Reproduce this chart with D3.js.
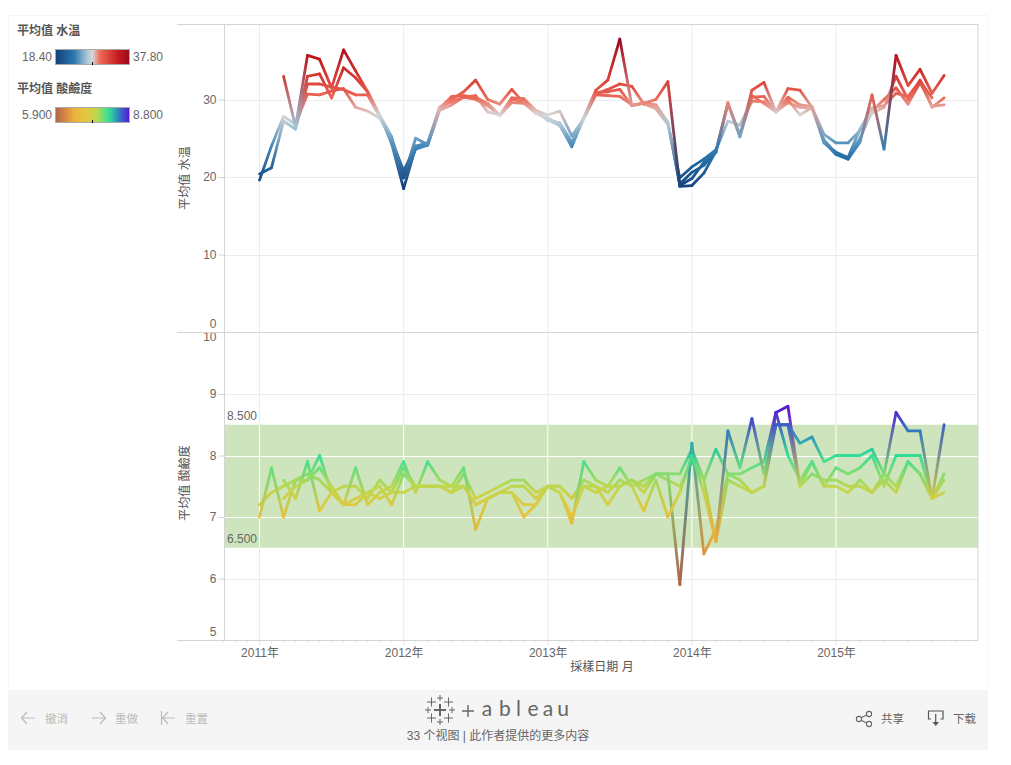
<!DOCTYPE html>
<html>
<head>
<meta charset="utf-8">
<script src="https://cdn.jsdelivr.net/npm/d3@7"></script>
<style>
html,body{margin:0;padding:0;background:#fff;}
svg{display:block;}
text{font-family:"Liberation Sans","Noto Sans CJK SC",sans-serif;}
</style>
</head>
<body>
<div id="chart"></div>
<script>

/* ==========================
   Data
========================== */

const startYear = 2011;
const yearTicks = [2011,2012,2013,2014,2015];
const tempTicks = [0,10,20,30];
const phTicks = [5,6,7,8,9,10];
const phBandLimits = [6.5,8.5];

// monthly, Jan 2011 to Oct 2015
const tempA = [null,null,33,26.5,35.7,35.2,31.5,36.4,33.7,31,28,24.3,
18.5,23.8,24.1,28.7,30,31,32.5,30,29.4,31.3,29.6,28.2,
27.6,26.8,23.9,27.7,31.2,32.5,37.8,29.2,29.5,30,32.3,18.8,
18.9,20.5,23.3,29.6,25.2,31.2,32.2,28.4,31.4,31.2,29,24.5,
22.9,22.3,24.5,30.6,23.6,35.7,31.8,33.9,30.8,33.1];
const tempB = [null,null,null,26.5,33,33.3,30.2,34.1,32.8,31,28,25.2,
19.9,25,24.2,28.9,30.4,30.5,30.3,29.5,28,30.2,30.1,28.6,
28,28.5,25.3,27.5,30.7,31.3,32,31.7,29.4,29,27,19.1,
20.6,21.5,23.2,29.4,25.5,30.3,30.4,28.4,30,28,29,25.5,
24.4,24.4,26,28.2,29,33,30,32.5,29,30.2];
const tempC = [20.4,21.2,27.2,26.2,32,32,31.6,31.3,30.6,30.6,27.8,24.8,
20.8,24,24.4,29,29.7,30.3,30.5,28.4,28,30,29.7,28.5,
27.4,26.6,24,27.6,30.6,30.5,30.4,29.3,29.5,28.8,26.8,19.9,
21.3,22.3,23.5,27.2,26.7,29.8,29.7,28.4,29.6,29,28.9,24.8,
23,22.4,25,28.5,30,31.5,29.4,32.2,29.1,29.3];
const tempD = [19.6,24,27.8,26.8,30.7,30.6,31.1,31.4,29,28.5,27.6,25,
19.9,23.6,24.1,28.6,29.3,30.3,30,29.2,27.9,29.6,29.5,28.5,
27.3,27,24.5,27.7,30.9,31,31.3,29.2,29.6,29.3,27.1,18.9,
19.8,21.9,23.2,29.5,25.2,30.5,29.5,28.4,30.3,29.3,29.1,24.4,
23.2,22.5,26.2,28.9,29.2,30.8,30.4,32.4,30.2,null];

const phA = [7,7.8,7,7.6,7.6,8,7.4,7.2,7.8,7.2,7.4,7.5,
7.9,7.4,7.9,7.6,7.5,7.8,6.8,7.3,7.4,7.4,7,7.2,
7.5,7.4,6.9,7.9,7.6,7.5,7.8,7.5,7.6,7.7,7.7,5.9,
8.2,6.4,6.8,7.7,7.6,7.4,7.5,8.7,8.8,7.5,7.9,7.5,
7.5,7.4,7.6,7.4,7.6,7.4,7.9,7.7,7.3,7.4];
const phB = [null,null,7.6,7.3,7.9,7.1,7.4,7.5,7.5,7.3,7.6,7.4,
7.8,7.5,7.5,7.5,7.4,7.7,7.3,7.4,7.5,7.6,7.6,7.4,
7.5,7.5,7.3,7.6,7.5,7.2,7.5,7.6,7.5,7.7,7.6,7.5,
7.9,7.6,8.1,7.7,7.7,7.8,7.9,8.7,8,7.6,7.9,7.5,
7.8,7.7,7.8,8,7.5,8,8,8,7.3,7.7];
const phC = [null,null,7.3,7.5,7.6,7.8,7.5,7.2,7.2,7.4,7.5,7.2,
7.7,7.5,7.5,7.5,7.4,7.5,7.2,7.3,7.4,7.4,7.2,7.2,
7.5,7.4,7,7.5,7.5,7.4,7.6,7.5,7.1,7.6,7,7.4,
8,7.4,6.6,8.4,7.8,8.6,7.7,8.5,8.5,8.2,8.3,7.9,
8,8,8,8.1,7.7,8.7,8.4,8.4,7.3,8.5];
const phD = [7.2,7.4,7.5,7.6,7.7,7.6,7.4,7.2,7.3,7.4,7.3,7.4,
7.4,7.5,7.5,7.5,7.5,7.5,7.2,7.3,7.4,7.5,7.5,7.3,
7.5,7.5,7.3,7.5,7.4,7.5,7.5,7.6,7.4,7.7,7.7,7.7,
8.1,7.6,6.6,7.6,7.5,7.4,7.5,8.5,8.5,7.5,7.7,7.6,
7.6,7.5,7.5,7.4,7.7,7.5,7.9,7.7,7.3,7.6];

const tempSeries = [tempD,tempC,tempB,tempA];
const phSeries = [phD,phB,phA,phC];

const tempRange = [18.4,37.8];
const phRange = [5.9,8.8];

/* ==========================
   Scales
========================== */

const width = 1011;
const height = 765;
const plotLeft = 224.5;
const plotRight = 978;

const svg = d3.select("#chart")
.append("svg")
.attr("width", width)
.attr("height", height);

const defs = svg.append("defs");

const x = d3.scaleLinear()
.domain([0,48])
.range([259.5,836]);

const monthIndex = (year,month) => (year-startYear)*12 + month;

const yTemp = d3.scaleLinear()
.domain([0,30])
.range([332,99.5]);

const yPh = d3.scaleLinear()
.domain([5,10])
.range([640,332.5]);

const tempColor = d3.scaleLinear()
.domain([0,0.25,0.42,0.5,0.6,0.85,1].map(t => tempRange[0] + t*(tempRange[1]-tempRange[0])))
.range(["#13407a","#2a78b0","#a5c4d6","#d8d8d8","#ee6a57","#c41a1c","#9c0a20"]);

const phColor = d3.scaleLinear()
.domain([0,0.14,0.25,0.41,0.55,0.66,0.73,0.86,1].map(t => phRange[0] + t*(phRange[1]-phRange[0])))
.range(["#b0654a","#d88a40","#eab13c","#e6c53e","#c0d74e","#62df80","#2fdf9a","#2f7cc0","#5a10d8"]);

/* ==========================
   Page frame
========================== */

svg.append("rect")
.attr("x",8.5).attr("y",15.5)
.attr("width",979).attr("height",675)
.attr("fill","#fff")
.attr("stroke","#f6f6f6");

svg.append("rect")
.attr("x",8).attr("y",690)
.attr("width",980).attr("height",60)
.attr("fill","#f5f5f5");

/* ==========================
   Grid and band
========================== */

const gridColor = "#ececec";
const grid = svg.append("g");

tempTicks.filter(d => d > 0).forEach(d => {
grid.append("line")
.attr("x1",plotLeft).attr("x2",plotRight)
.attr("y1",Math.round(yTemp(d))+0.5).attr("y2",Math.round(yTemp(d))+0.5)
.attr("stroke",gridColor);
});

[6,7,8,9].forEach(d => {
grid.append("line")
.attr("x1",plotLeft).attr("x2",plotRight)
.attr("y1",Math.round(yPh(d))+0.5).attr("y2",Math.round(yPh(d))+0.5)
.attr("stroke",gridColor);
});

yearTicks.forEach(y => {
grid.append("line")
.attr("x1",x(monthIndex(y,0))).attr("x2",x(monthIndex(y,0)))
.attr("y1",24).attr("y2",640)
.attr("stroke",gridColor);
});

svg.append("rect")
.attr("x",plotLeft)
.attr("y",yPh(phBandLimits[1]))
.attr("width",plotRight-plotLeft)
.attr("height",yPh(phBandLimits[0])-yPh(phBandLimits[1]))
.attr("fill","#cde4bd");

[7,8].forEach(d => {
svg.append("line")
.attr("x1",plotLeft).attr("x2",plotRight)
.attr("y1",Math.round(yPh(d))+0.5).attr("y2",Math.round(yPh(d))+0.5)
.attr("stroke","#fff");
});

yearTicks.forEach(y => {
svg.append("line")
.attr("x1",x(monthIndex(y,0))).attr("x2",x(monthIndex(y,0)))
.attr("y1",yPh(phBandLimits[1])).attr("y2",yPh(phBandLimits[0]))
.attr("stroke","#fff");
});

phBandLimits.forEach(d => {
svg.append("text")
.attr("x",227)
.attr("y",yPh(d)-5)
.attr("font-size",12)
.attr("fill","#666")
.text(d3.format(".3f")(d));
});

/* ==========================
   Axes
========================== */

function styleAxis(g){
g.select(".domain").remove();
g.selectAll("line").attr("stroke","#d4d4d4");
g.selectAll("text")
.attr("font-size",12)
.attr("fill","#666");
}

const axisTemp = svg.append("g")
.attr("transform",`translate(${plotLeft},0)`)
.call(d3.axisLeft(yTemp).tickValues(tempTicks).tickSize(6).tickPadding(2).tickFormat(d3.format("d")))
.call(styleAxis);

axisTemp.selectAll(".tick")
.filter(d => d === 0)
.select("text")
.attr("dy","-0.35em");

const axisPh = svg.append("g")
.attr("transform",`translate(${plotLeft},0)`)
.call(d3.axisLeft(yPh).tickValues(phTicks).tickSize(6).tickPadding(2).tickFormat(d3.format("d")))
.call(styleAxis);

axisPh.selectAll(".tick")
.filter(d => d === 10)
.select("text")
.attr("dy","0.68em");

axisPh.selectAll(".tick")
.filter(d => d === 5)
.select("text")
.attr("dy","-0.4em");

axisPh.selectAll(".tick")
.filter(d => d === 5 || d === 10)
.select("line")
.remove();

const axisX = svg.append("g")
.attr("transform","translate(0,640)")
.call(d3.axisBottom(x)
.tickValues(yearTicks.map(y => monthIndex(y,0)))
.tickSize(0)
.tickPadding(8)
.tickFormat(d => (startYear + d/12) + "年"))
.call(styleAxis);

// faint month ticks
svg.append("g")
.selectAll("line")
.data(d3.range(-3,60))
.enter()
.append("line")
.attr("x1",d => x(d))
.attr("x2",d => x(d))
.attr("y1",640)
.attr("y2",d => d % 12 === 0 ? 645 : 643)
.attr("stroke","#e8e8e8");

// panel borders
[
[177,plotRight,24.5,24.5],
[177,plotRight,332.5,332.5],
[177,plotRight,640.5,640.5],
[plotLeft,plotLeft,24,640],
[plotRight,plotRight,24,640]
].forEach(b => {
svg.append("line")
.attr("x1",b[0]).attr("x2",b[1])
.attr("y1",b[2]).attr("y2",b[3])
.attr("stroke","#d4d4d4");
});

function axisTitle(label,cx,cy,rotate){
svg.append("text")
.attr("transform",`translate(${cx},${cy})` + (rotate ? " rotate(-90)" : ""))
.attr("text-anchor","middle")
.attr("font-size",12)
.attr("fill","#555")
.text(label);
}

axisTitle("平均值 水温",189,178,true);
axisTitle("平均值 酸鹼度",189,483,true);
axisTitle("採樣日期 月",602,671,false);

/* ==========================
   Lines, one gradient per segment
========================== */

let gradId = 0;

function drawSeries(seriesList,y,color){

const line = d3.line()
.x(d => x(d.i))
.y(d => y(d.v));

const group = svg.append("g")
.attr("fill","none")
.attr("stroke-width",2.8)
.attr("stroke-linecap","round")
.attr("stroke-linejoin","round");

seriesList.forEach(values => {

for(let i=0;i<values.length-1;i++){

if(values[i] === null || values[i+1] === null) continue;

const id = "seg" + (gradId++);

const grad = defs.append("linearGradient")
.attr("id",id)
.attr("gradientUnits","userSpaceOnUse")
.attr("x1",x(i)).attr("y1",y(values[i]))
.attr("x2",x(i+1)).attr("y2",y(values[i+1]));

// straight blend between the two end colours, as in the reference
grad.append("stop")
.attr("offset",0)
.attr("stop-color",color(values[i]));

grad.append("stop")
.attr("offset",1)
.attr("stop-color",color(values[i+1]));

group.append("path")
.attr("d",line([{i:i,v:values[i]},{i:i+1,v:values[i+1]}]))
.attr("stroke",`url(#${id})`);

}

});

}

drawSeries(tempSeries,yTemp,tempColor);
drawSeries(phSeries,yPh,phColor);

/* ==========================
   Legends
========================== */

function drawLegend(title,top,color,range,fmt){

const id = "legend" + top;
const grad = defs.append("linearGradient").attr("id",id);

d3.range(0,1.001,0.05).forEach(t => {
grad.append("stop")
.attr("offset",t)
.attr("stop-color",color(range[0] + t*(range[1]-range[0])));
});

svg.append("text")
.attr("x",17).attr("y",top)
.attr("font-size",12)
.attr("font-weight","bold")
.attr("fill","#555")
.text(title);

svg.append("rect")
.attr("x",55.5).attr("y",top+14.5)
.attr("width",74).attr("height",15)
.attr("fill",`url(#${id})`)
.attr("stroke","#aaa");

svg.append("line")
.attr("x1",92.5).attr("x2",92.5)
.attr("y1",top+27).attr("y2",top+30)
.attr("stroke","#000");

svg.append("text")
.attr("x",52).attr("y",top+25.5)
.attr("text-anchor","end")
.attr("font-size",12)
.attr("fill","#666")
.text(fmt(range[0]));

svg.append("text")
.attr("x",133).attr("y",top+25.5)
.attr("font-size",12)
.attr("fill","#666")
.text(fmt(range[1]));

}

drawLegend("平均值 水温",35,tempColor,tempRange,d3.format(".2f"));
drawLegend("平均值 酸鹼度",93,phColor,phRange,d3.format(".3f"));

/* ==========================
   Toolbar
========================== */

function toolText(label,px,color){
svg.append("text")
.attr("x",px).attr("y",723)
.attr("font-size",11.5)
.attr("fill",color)
.text(label);
}

function stroke(d,color,w){
svg.append("path")
.attr("d",d)
.attr("fill","none")
.attr("stroke",color)
.attr("stroke-width",w || 1.2);
}

stroke("M22 718H35M27 712L21.5 718L27 724","#bbb");
stroke("M92 718H105M100 712L105.5 718L100 724","#bbb");
stroke("M161.5 711V725M175 718H163M168 712L162.5 718L168 724","#bbb");

toolText("撤消",45,"#bbb");
toolText("重做",115,"#bbb");
toolText("重置",185,"#bbb");

toolText("共享",881,"#666");
toolText("下载",953,"#666");

svg.append("g")
.selectAll("circle")
.data([[869,714],[859,719],[869,724]])
.enter()
.append("circle")
.attr("cx",d => d[0])
.attr("cy",d => d[1])
.attr("r",2.6)
.attr("fill","none")
.attr("stroke","#666")
.attr("stroke-width",1.1);

stroke("M861.5 717.5L866.7 715M861.5 720.5L866.7 723","#666",1.1);
stroke("M931 719H928.5V711H943V719H940.5M935.7 714V725","#555",1.2);
svg.append("path").attr("d","M932.5 722H939L935.7 726Z").attr("fill","#555");

const logoCrosses = [
[440,710,6,2],[440,698,3,1],[440,722,3,1],
[428,710,3,1],[452,710,3,1],
[431.5,702,4.5,1],[448.5,702,4.5,1],[431.5,718,4.5,1],[448.5,718,4.5,1]
];

logoCrosses.forEach(c => {
stroke(`M${c[0]-c[2]} ${c[1]}H${c[0]+c[2]}M${c[0]} ${c[1]-c[2]}V${c[1]+c[2]}`,"#666",c[3]);
});

stroke("M462 711H474M468 705V717","#666",1.4);

const wordmark = [["a",487],["b",505],["l",518.5],["e",533],["a",548],["u",563]];

wordmark.forEach(w => {
svg.append("text")
.attr("x",w[1]).attr("y",716)
.attr("text-anchor","middle")
.style("font-family","Lato")
.style("font-weight",400)
.attr("font-size",21)
.attr("fill","#666")
.text(w[0]);
});

svg.append("text")
.attr("x",498).attr("y",740)
.attr("text-anchor","middle")
.attr("font-size",12)
.attr("fill","#666")
.text("33 个视图 | 此作者提供的更多内容");

</script>
</body>
</html>
